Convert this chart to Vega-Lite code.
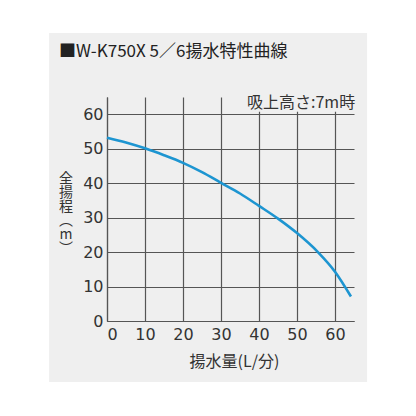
{
  "$schema": "https://vega.github.io/schema/vega-lite/v6.json",
  "description": "W-K750X 5/6 pump performance curve (total head vs flow rate).",
  "autosize": {"type": "none"},
  "width": 247,
  "height": 224,
  "padding": {"left": 107, "top": 97, "right": 62, "bottom": 95},
  "background": "#efefef",
  "config": {
    "view": {"stroke": null},
    "axis": {
      "labelFont": "DejaVu Sans",
      "labelFontSize": 16,
      "labelColor": "#333333",
      "titleFont": "Noto Sans CJK JP",
      "titleFontSize": 16,
      "titleFontWeight": "normal",
      "titleColor": "#333333",
      "domainColor": "#555555",
      "domainWidth": 1.2,
      "gridColor": "#555555",
      "gridOpacity": 1,
      "gridWidth": 1.2,
      "ticks": false
    }
  },
  "layer": [
    {
      "data": {"values": [{}]},
      "mark": {"type": "rect", "fill": "#efefef"},
      "encoding": {
        "x": {
          "datum": 36.2,
          "type": "quantitative",
          "scale": {"domain": [0, 65], "nice": false},
          "axis": {
            "values": [0, 10, 20, 30, 40, 50, 60],
            "grid": true,
            "labelOverlap": false,
            "labelSeparation": -30,
            "labelPadding": 5,
            "title": "揚水量(L/分)",
            "titleX": 127,
            "titlePadding": 11
          }
        },
        "x2": {"datum": 66},
        "y": {
          "datum": 60.7,
          "type": "quantitative",
          "scale": {"domain": [0, 65], "nice": false},
          "axis": {
            "values": [0, 10, 20, 30, 40, 50, 60],
            "tickCount": 7,
            "grid": true,
            "labelOverlap": false,
            "labelSeparation": -30,
            "labelBound": false,
            "labelFlush": false,
            "labelPadding": 4,
            "title": null
          }
        },
        "y2": {"datum": 66}
      }
    },
    {
      "data": {"values": [{}]},
      "mark": {"type": "rect", "fill": null, "stroke": "white", "strokeWidth": 100},
      "encoding": {
        "x": {"datum": -28.4, "type": "quantitative"},
        "x2": {"datum": 81.6},
        "y": {"datum": 98.1, "type": "quantitative"},
        "y2": {"datum": -32.2}
      }
    },
    {
      "data": {"values": [{}]},
      "mark": {
        "type": "text",
        "text": "■W-K750X 5／6揚水特性曲線",
        "align": "left",
        "baseline": "middle",
        "font": "Noto Sans CJK JP",
        "fontSize": 17,
        "color": "#222222"
      },
      "encoding": {
        "x": {"datum": -12.6, "type": "quantitative"},
        "y": {"datum": 78.1, "type": "quantitative"}
      }
    },
    {
      "data": {"values": [{}]},
      "mark": {
        "type": "text",
        "text": ["全", "揚", "程", "︵", "m", "︶"],
        "align": "center",
        "baseline": "top",
        "lineHeight": 14,
        "font": "Noto Sans CJK JP",
        "fontSize": 14,
        "color": "#333333"
      },
      "encoding": {
        "x": {"datum": -10.8, "type": "quantitative"},
        "y": {"datum": 43.1, "type": "quantitative"}
      }
    },
    {
      "data": {"values": [{}]},
      "mark": {
        "type": "text",
        "text": "吸上高さ:7m時",
        "align": "right",
        "baseline": "middle",
        "font": "Noto Sans CJK JP",
        "fontSize": 16,
        "color": "#333333"
      },
      "encoding": {
        "x": {"datum": 65.3, "type": "quantitative"},
        "y": {"datum": 63.2, "type": "quantitative"}
      }
    },
    {
      "data": {
        "values": [
          {"flow": 0, "head": 53.2},
          {"flow": 5, "head": 51.8},
          {"flow": 10, "head": 50.1},
          {"flow": 15, "head": 48.1},
          {"flow": 20, "head": 45.9},
          {"flow": 25, "head": 43.2},
          {"flow": 30, "head": 40.1},
          {"flow": 35, "head": 37.0},
          {"flow": 40, "head": 33.4},
          {"flow": 45, "head": 29.7},
          {"flow": 50, "head": 25.5},
          {"flow": 55.5, "head": 20.0},
          {"flow": 60, "head": 14.3},
          {"flow": 64.2, "head": 7.1}
        ]
      },
      "mark": {"type": "line", "color": "#1d95d1", "strokeWidth": 2.6, "interpolate": "monotone"},
      "encoding": {
        "x": {"field": "flow", "type": "quantitative"},
        "y": {"field": "head", "type": "quantitative"}
      }
    }
  ]
}
